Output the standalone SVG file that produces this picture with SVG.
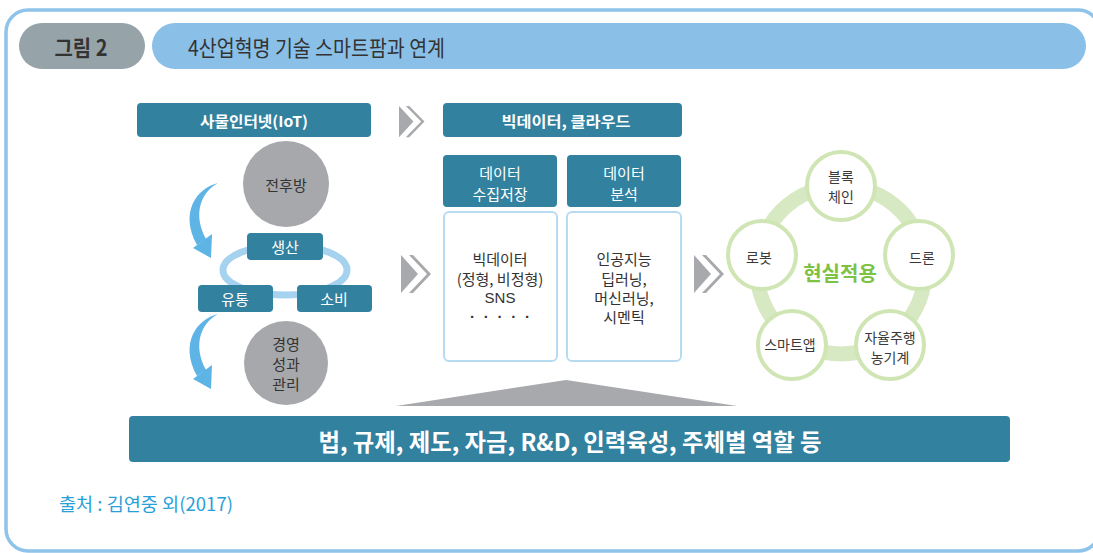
<svg xmlns="http://www.w3.org/2000/svg" xmlns:xlink="http://www.w3.org/1999/xlink" width="1093" height="553" viewBox="0 0 1093 553">
<style>
  text { font-family: "Noto Sans CJK KR", "Noto Sans", sans-serif; dominant-baseline: central; }
  .lat { font-family: "Liberation Sans", "Noto Sans", sans-serif; }
  .teal { fill: #31819f; }
  .wt { fill: #ffffff; font-size: 15px; text-anchor: middle; }
  .wtb { fill: #ffffff; font-size: 15px; font-weight: bold; text-anchor: middle; }
  .dk { fill: #333333; font-size: 15px; text-anchor: middle; }
  .sm { fill: #3a3a3a; font-size: 14px; text-anchor: middle; }
  .gc { fill: #a7a8ab; }
  .wc { fill: #ffffff; stroke: #cfe5b3; stroke-width: 4; }
  .arrow { fill: #5db4e5; }
</style>
<defs>
  <g id="chev">
    <polygon points="0,0 17,19 0,38" fill="#a7a9ac"/>
    <polygon points="8,0 12,0 30,19 12,38 8,38 26,19" fill="#a7a9ac"/>
  </g>
  <g id="curl">
    <path d="M218,183 C197,188 179,212 197,245 L206,239 C193,215 200,193 218,183 Z"/>
    <polygon points="212,234 193,248 211,258"/>
  </g>
</defs>

<rect id="frame" x="6" y="10" width="1094" height="541" rx="22" fill="#ffffff" stroke="#8ec3ea" stroke-width="3.5"/>

<g id="title">
  <rect x="19" y="23" width="126" height="46" rx="23" fill="#96a3a9"/>
  <text x="81" y="46" fill="#333333" font-size="22" font-weight="bold" text-anchor="middle" textLength="53" lengthAdjust="spacingAndGlyphs">그림 2</text>
  <rect x="152" y="23" width="934" height="46" rx="23" fill="#8ac0e8"/>
  <text x="188" y="46" fill="#333333" font-size="22" textLength="257" lengthAdjust="spacingAndGlyphs">4산업혁명 기술 스마트팜과 연계</text>
</g>

<g id="connectors">
  <use xlink:href="#chev" transform="translate(399,106) scale(0.85,0.82)"/>
  <use xlink:href="#chev" transform="translate(401,255)"/>
  <use xlink:href="#chev" transform="translate(694,255)"/>
  <g class="arrow">
    <use xlink:href="#curl"/>
    <use xlink:href="#curl" transform="translate(0,131)"/>
  </g>
  <ellipse cx="285" cy="270" rx="62" ry="25" fill="none" stroke="#a5d2ef" stroke-width="7"/>
  <circle cx="841" cy="270" r="84" fill="none" stroke="#d7e9c3" stroke-width="15"/>
  <polygon points="396,406 566,380 737,406" fill="#a7a9ac"/>
</g>

<g id="iot">
  <rect x="137" y="103" width="234" height="34" rx="4" class="teal"/>
  <text x="254" y="120" class="wtb" textLength="108" lengthAdjust="spacingAndGlyphs">사물인터넷(IoT)</text>
</g>
<g id="n-jeonhubang">
  <circle cx="286" cy="184" r="43" class="gc"/>
  <text x="286" y="184" class="dk" font-size="16">전후방</text>
</g>
<g id="n-saengsan">
  <rect x="247" y="233" width="76" height="27" rx="4" class="teal"/>
  <text x="285" y="246" class="wt">생산</text>
</g>
<g id="n-yutong">
  <rect x="198" y="285" width="75" height="27" rx="4" class="teal"/>
  <text x="235" y="298" class="wt">유통</text>
</g>
<g id="n-sobi">
  <rect x="297" y="285" width="75" height="27" rx="4" class="teal"/>
  <text x="334" y="298" class="wt">소비</text>
</g>
<g id="n-gyeongyeong">
  <circle cx="286" cy="363" r="42" class="gc"/>
  <text x="286" y="343" class="dk" font-size="16">경영</text>
  <text x="286" y="363" class="dk" font-size="16">성과</text>
  <text x="286" y="383" class="dk" font-size="16">관리</text>
</g>

<g id="bigdata">
  <rect x="443" y="103" width="239" height="34" rx="4" class="teal"/>
  <text x="566" y="120" class="wtb" textLength="129" lengthAdjust="spacingAndGlyphs">빅데이터, 클라우드</text>
</g>
<g id="n-collect">
  <rect x="443" y="155" width="114" height="52" rx="4" class="teal"/>
  <text x="500" y="172" class="wt">데이터</text>
  <text x="500" y="193" class="wt">수집저장</text>
</g>
<g id="n-analysis">
  <rect x="567" y="155" width="114" height="52" rx="4" class="teal"/>
  <text x="624" y="172" class="wt">데이터</text>
  <text x="624" y="193" class="wt">분석</text>
</g>
<g id="box-collect">
  <rect x="444" y="212" width="113" height="149" rx="5" fill="#ffffff" stroke="#b7dcf2" stroke-width="2"/>
  <text x="500" y="258" class="dk">빅데이터</text>
  <text x="500" y="278" class="dk">(정형, 비정형)</text>
  <text x="500" y="297" class="dk lat">SNS</text>
  <text x="500" y="316" class="dk lat" font-size="12" font-weight="bold" textLength="60" lengthAdjust="spacing">· · · · ·</text>
</g>
<g id="box-analysis">
  <rect x="567" y="212" width="114" height="149" rx="5" fill="#ffffff" stroke="#b7dcf2" stroke-width="2"/>
  <text x="624" y="258" class="dk">인공지능</text>
  <text x="624" y="278" class="dk">딥러닝,</text>
  <text x="624" y="297" class="dk">머신러닝,</text>
  <text x="624" y="316" class="dk">시멘틱</text>
</g>

<g id="real">
  <text x="840" y="272" fill="#7dc242" font-size="20" font-weight="bold" text-anchor="middle">현실적용</text>
</g>
<g id="n-blockchain">
  <circle cx="841" cy="186" r="34" class="wc"/>
  <text x="841" y="176" class="sm">블록</text>
  <text x="841" y="196" class="sm">체인</text>
</g>
<g id="n-robot">
  <circle cx="762" cy="255" r="34" class="wc"/>
  <text x="759" y="257" class="sm">로봇</text>
</g>
<g id="n-drone">
  <circle cx="919" cy="255" r="34" class="wc"/>
  <text x="922" y="257" class="sm">드론</text>
</g>
<g id="n-smartapp">
  <circle cx="792" cy="345" r="34" class="wc"/>
  <text x="790" y="344" class="sm">스마트앱</text>
</g>
<g id="n-autonomous">
  <circle cx="890" cy="345" r="34" class="wc"/>
  <text x="890" y="337" class="sm">자율주행</text>
  <text x="890" y="357" class="sm">농기계</text>
</g>

<g id="base">
  <rect x="129" y="416" width="881" height="46" rx="4" class="teal"/>
  <text x="570" y="440" fill="#ffffff" font-size="24" font-weight="bold" text-anchor="middle" textLength="503" lengthAdjust="spacingAndGlyphs">법, 규제, 제도, 자금, R&amp;D, 인력육성, 주체별 역할 등</text>
</g>

<g id="source">
  <text x="59" y="503" fill="#2aa0d8" font-size="18" textLength="174" lengthAdjust="spacingAndGlyphs">출처 : 김연중 외(2017)</text>
</g>
</svg>
